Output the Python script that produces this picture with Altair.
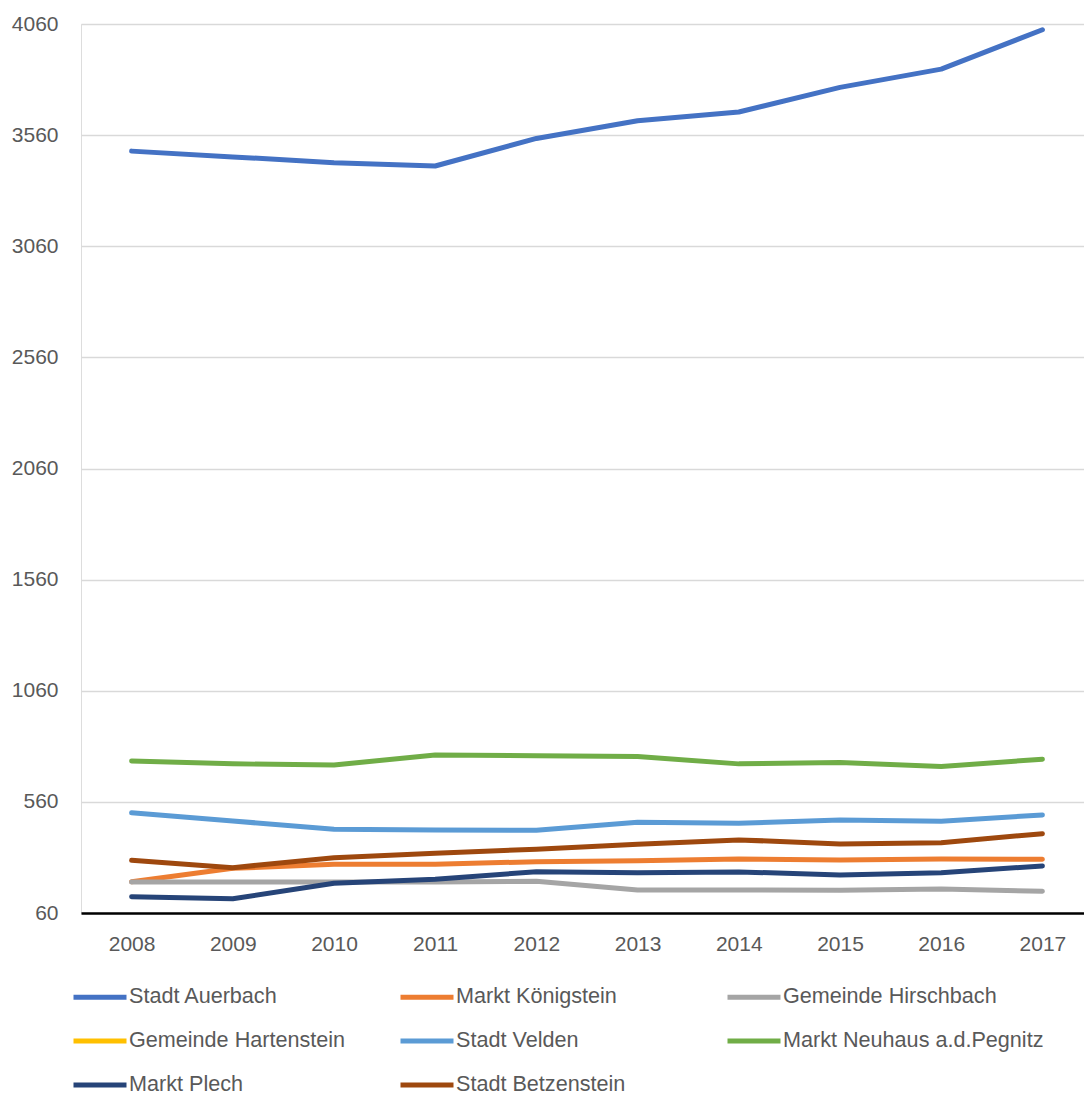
import altair as alt
import pandas as pd

# Years on the x axis
years = ["2008", "2009", "2010", "2011", "2012", "2013", "2014", "2015", "2016", "2017"]

# One list of values per municipality
stadt_auerbach = [3488, 3462, 3436, 3421, 3545, 3625, 3664, 3775, 3857, 4034]
markt_koenigstein = [201, 261, 279, 279, 291, 295, 303, 299, 303, 302]
gemeinde_hirschbach = [200, 200, 200, 200, 203, 164, 164, 162, 168, 158]
gemeinde_hartenstein = [None] * 10
stadt_velden = [511, 474, 437, 434, 432, 468, 464, 479, 473, 501]
markt_neuhaus = [744, 731, 726, 771, 768, 764, 731, 737, 719, 752]
markt_plech = [133, 124, 194, 212, 246, 241, 245, 231, 241, 272]
stadt_betzenstein = [297, 264, 309, 329, 347, 369, 389, 371, 376, 417]

series_names = [
    "Stadt Auerbach",
    "Markt Königstein",
    "Gemeinde Hirschbach",
    "Gemeinde Hartenstein",
    "Stadt Velden",
    "Markt Neuhaus a.d.Pegnitz",
    "Markt Plech",
    "Stadt Betzenstein",
]
series_values = [
    stadt_auerbach,
    markt_koenigstein,
    gemeinde_hirschbach,
    gemeinde_hartenstein,
    stadt_velden,
    markt_neuhaus,
    markt_plech,
    stadt_betzenstein,
]
series_colors = [
    "#4472C4", "#ED7D31", "#A5A5A5", "#FFC000",
    "#5B9BD5", "#70AD47", "#264478", "#9E480E",
]
y_ticks = [60, 560, 1060, 1560, 2060, 2560, 3060, 3560, 4060]

rows = []
for idx, (name, vals) in enumerate(zip(series_names, series_values)):
    for yr, v in zip(years, vals):
        if v is not None:
            rows.append({"Jahr": yr, "Gemeinde": name, "Wert": v, "idx": idx})
df = pd.DataFrame(rows)

FONT = "Liberation Sans"
GREY_TEXT = "#595959"

chart = (
    alt.Chart(df)
    .mark_line(strokeWidth=5, strokeCap="round", strokeJoin="round")
    .encode(
        x=alt.X(
            "Jahr:O",
            sort=years,
            scale=alt.Scale(type="point", padding=0.5, range=[0, 1012]),
            axis=alt.Axis(
                title=None,
                labelAngle=0,
                labelFont=FONT,
                labelFontSize=21,
                labelColor=GREY_TEXT,
                labelPadding=20,
                ticks=False,
                domainColor="#000000",
                domainWidth=2.5,
                grid=False,
            ),
        ),
        y=alt.Y(
            "Wert:Q",
            scale=alt.Scale(domain=[60, 4060], nice=False, zero=False),
            axis=alt.Axis(
                title=None,
                values=y_ticks,
                format="d",
                labelFont=FONT,
                labelFontSize=21,
                labelColor=GREY_TEXT,
                labelPadding=23,
                ticks=False,
                domain=False,
                gridColor="#D9D9D9",
                gridWidth=1.5,
            ),
        ),
        color=alt.Color(
            "Gemeinde:N",
            scale=alt.Scale(domain=series_names, range=series_colors),
            legend=alt.Legend(
                title=None,
                orient="none",
                legendX=-10,
                legendY=944,
                direction="horizontal",
                columns=3,
                gridAlign="all",
                columnPadding=0,
                rowPadding=4,
                symbolType="M-1,0L1,0",
                symbolSize=2809,
                symbolStrokeWidth=5,
                labelFont=FONT,
                labelFontSize=21.6,
                labelColor=GREY_TEXT,
                labelOffset=0,
                labelLimit=500,
            ),
        ),
        detail="idx:O",
        order="idx:O",
    )
    .properties(
        width=1003,
        height=889,
        autosize=alt.AutoSizeParams(type="none"),
        padding={"left": 81, "top": 24, "right": 0, "bottom": 181},
    )
    .configure_view(stroke=None)
    .configure(background="white")
)

chart.save("out.html", embed_options={"renderer": "svg", "actions": False})
